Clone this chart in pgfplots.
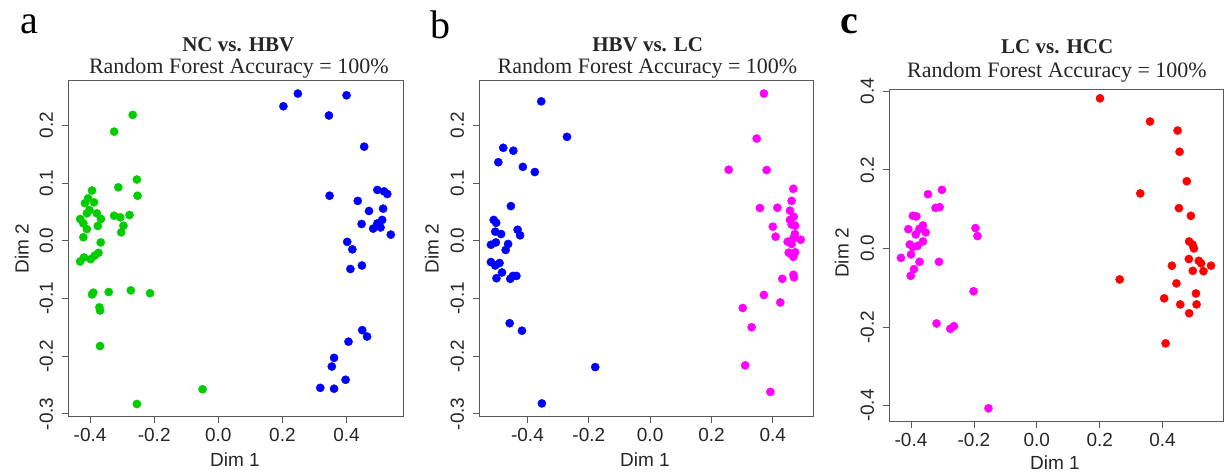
\documentclass[border=0pt]{standalone}
\usepackage{fontspec}
\setmainfont{Liberation Sans}
\newfontfamily\serif{Liberation Serif}
\usepackage{pgfplots}
\pgfplotsset{compat=1.18}
\definecolor{rgreen}{RGB}{0,205,0}
\definecolor{rblue}{RGB}{0,0,255}
\definecolor{rmag}{RGB}{255,0,255}
\definecolor{rred}{RGB}{255,0,0}
\pgfplotsset{
  myax/.style={
    scale only axis,
    axis line style={black!65, line width=0.8pt},
    tick style={black!65, line width=0.8pt},
    tick align=outside, major tick length=6.5pt,
    xtick pos=bottom, ytick pos=left,
    tick label style={font=\fontsize{19}{22}\selectfont, text=black!85},
    xticklabel style={inner ysep=5.1pt},
    yticklabel style={rotate=90, anchor=south, inner ysep=8.5pt},
    every axis plot/.append style={only marks, mark=*, mark size=4.1pt},
  }
}
\begin{document}
\begin{tikzpicture}
\useasboundingbox (0,0) rectangle (1227pt,475pt);
% ---------- panel a
\begin{axis}[myax, at={(68.3pt,58.3pt)}, anchor=south west, width=335pt, height=336pt,
  xmin=-0.468, xmax=0.577, ymin=-0.305, ymax=0.2773,
  xtick={-0.4,-0.2,0,0.2,0.4}, xticklabels={-0.4,-0.2,0.0,0.2,0.4},
  ytick={-0.3,-0.2,-0.1,0,0.1,0.2}, yticklabels={-0.3,-0.2,-0.1,0.0,0.1,0.2}]
\addplot[color=rgreen, mark options={fill=rgreen, draw=rgreen}] coordinates {
(-0.267,0.218)(-0.325,0.189)(-0.254,0.106)(-0.252,0.078)(-0.312,0.0925)(-0.394,0.087)(-0.406,0.0735)(-0.416,0.065)(-0.388,0.0665)(-0.402,0.053)(-0.410,0.0475)(-0.379,0.0475)(-0.366,0.0376)(-0.431,0.0376)(-0.421,0.030)(-0.410,0.020)(-0.376,0.0255)(-0.325,0.0433)(-0.306,0.0405)(-0.277,0.0445)(-0.296,0.026)(-0.303,0.0145)(-0.421,0.006)(-0.367,-0.003)(-0.431,-0.036)(-0.419,-0.029)(-0.398,-0.032)(-0.386,-0.026)(-0.374,-0.021)(-0.394,-0.093)(-0.390,-0.090)(-0.342,-0.089)(-0.273,-0.086)(-0.213,-0.091)(-0.371,-0.1155)(-0.369,-0.121)(-0.369,-0.1825)(-0.254,-0.283)(-0.049,-0.2575)
};
\addplot[color=rblue, mark options={fill=rblue, draw=rblue}] coordinates {
(0.203,0.233)(0.248,0.255)(0.400,0.252)(0.345,0.217)(0.455,0.163)(0.347,0.078)(0.496,0.088)(0.517,0.0855)(0.527,0.081)(0.435,0.069)(0.470,0.0515)(0.514,0.0555)(0.447,0.029)(0.511,0.036)(0.496,0.030)(0.483,0.021)(0.506,0.023)(0.538,0.0105)(0.402,-0.002)(0.418,-0.015)(0.448,-0.043)(0.412,-0.049)(0.449,-0.155)(0.464,-0.166)(0.406,-0.175)(0.361,-0.203)(0.354,-0.218)(0.397,-0.241)(0.318,-0.255)(0.361,-0.2565)
};
\end{axis}
% ---------- panel b
\begin{axis}[myax, at={(479.3pt,58.3pt)}, anchor=south west, width=334pt, height=336pt,
  xmin=-0.557, xmax=0.532, ymin=-0.305, ymax=0.2773,
  xtick={-0.4,-0.2,0,0.2,0.4}, xticklabels={-0.4,-0.2,0.0,0.2,0.4},
  ytick={-0.3,-0.2,-0.1,0,0.1,0.2}, yticklabels={-0.3,-0.2,-0.1,0.0,0.1,0.2}]
\addplot[color=rblue, mark options={fill=rblue, draw=rblue}] coordinates {
(-0.355,0.2415)(-0.271,0.180)(-0.479,0.161)(-0.446,0.156)(-0.495,0.136)(-0.415,0.128)(-0.376,0.119)(-0.454,0.060)(-0.510,0.036)(-0.502,0.031)(-0.505,0.0156)(-0.486,0.0116)(-0.432,0.019)(-0.424,0.0093)(-0.519,-0.007)(-0.503,-0.003)(-0.463,-0.0057)(-0.471,-0.016)(-0.519,-0.037)(-0.505,-0.043)(-0.491,-0.0387)(-0.483,-0.055)(-0.501,-0.065)(-0.456,-0.066)(-0.447,-0.061)(-0.436,-0.061)(-0.458,-0.143)(-0.418,-0.156)(-0.179,-0.219)(-0.353,-0.282)
};
\addplot[color=rmag, mark options={fill=rmag, draw=rmag}] coordinates {
(0.371,0.255)(0.3475,0.177)(0.256,0.123)(0.380,0.1225)(0.467,0.090)(0.4615,0.069)(0.358,0.0567)(0.415,0.0572)(0.456,0.052)(0.468,0.0416)(0.456,0.036)(0.473,0.026)(0.400,0.0243)(0.4615,0.028)(0.409,0.007)(0.472,0.0116)(0.491,0.0017)(0.4485,-0.0017)(0.4615,-0.0057)(0.467,0.004)(0.452,-0.0208)(0.473,-0.020)(0.459,-0.023)(0.467,-0.028)(0.467,-0.059)(0.469,-0.0635)(0.431,-0.066)(0.371,-0.094)(0.4245,-0.107)(0.302,-0.1166)(0.331,-0.150)(0.310,-0.216)(0.392,-0.262)
};
\end{axis}
% ---------- panel c
\begin{axis}[myax, at={(889.3pt,53.3pt)}, anchor=south west, width=334pt, height=332.4pt,
  xmin=-0.469, xmax=0.593, ymin=-0.441, ymax=0.405,
  xtick={-0.4,-0.2,0,0.2,0.4}, xticklabels={-0.4,-0.2,0.0,0.2,0.4},
  ytick={-0.4,-0.2,0,0.2,0.4}, yticklabels={-0.4,-0.2,0.0,0.2,0.4}]
\addplot[color=rmag, mark options={fill=rmag, draw=rmag}] coordinates {
(-0.3016,0.149)(-0.346,0.138)(-0.322,0.1033)(-0.309,0.105)(-0.394,0.083)(-0.383,0.0814)(-0.4086,0.049)(-0.362,0.0585)(-0.373,0.050)(-0.3535,0.0407)(-0.385,0.0356)(-0.362,0.0178)(-0.404,0.010)(-0.394,0.004)(-0.379,0.0066)(-0.400,-0.0153)(-0.432,-0.024)(-0.373,-0.034)(-0.3905,-0.0527)(-0.401,-0.0697)(-0.311,-0.034)(-0.195,0.0517)(-0.1886,0.0313)(-0.201,-0.109)(-0.3187,-0.191)(-0.275,-0.2045)(-0.2635,-0.1977)(-0.1537,-0.407)
};
\addplot[color=rred, mark options={fill=rred, draw=rred}] coordinates {
(0.201,0.382)(0.360,0.323)(0.4476,0.300)(0.454,0.246)(0.477,0.171)(0.329,0.140)(0.452,0.1025)(0.490,0.083)(0.4845,0.0178)(0.495,0.010)(0.4995,0.000)(0.4835,-0.027)(0.515,-0.0315)(0.5225,-0.038)(0.554,-0.044)(0.4295,-0.044)(0.496,-0.057)(0.530,-0.058)(0.2635,-0.079)(0.444,-0.089)(0.506,-0.1145)(0.405,-0.127)(0.456,-0.1425)(0.508,-0.1425)(0.4845,-0.165)(0.4095,-0.2417)
};
\end{axis}
% ---------- texts
\tikzset{ttl/.style={anchor=base, inner sep=0pt, font=\serif\bfseries\fontsize{21}{24}\selectfont, text=black!85},
         sub/.style={anchor=base, inner sep=0pt, font=\serif\fontsize{22}{24}\selectfont, text=black!85},
         let/.style={anchor=base west, inner sep=0pt, font=\serif\fontsize{40}{40}\selectfont},
         dl/.style={anchor=base, inner sep=0pt, font=\fontsize{19}{22}\selectfont, text=black!85},
         dr/.style={anchor=center, rotate=90, inner sep=0pt, font=\fontsize{19}{22}\selectfont, text=black!85}}
\node[let] at (20pt,441.7pt) {a};
\node[let] at (430pt,436.7pt) {b};
\node[let, font=\serif\bfseries\fontsize{40}{40}\selectfont] at (840pt,441.7pt) {c};
\node[ttl] at (238.3pt,423.3pt) {NC vs. HBV};
\node[sub] at (238.8pt,401pt) {Random Forest Accuracy = 100\%};
\node[ttl] at (647.7pt,423.3pt) {HBV vs. LC};
\node[sub] at (647.5pt,401pt) {Random Forest Accuracy = 100\%};
\node[ttl] at (1057.2pt,421pt) {LC vs. HCC};
\node[sub] at (1057pt,397.3pt) {Random Forest Accuracy = 100\%};
\node[dl] at (235pt,8.3pt) {Dim 1};
\node[dl] at (645pt,8.3pt) {Dim 1};
\node[dl] at (1055pt,5.5pt) {Dim 1};
\node[dr] at (21.7pt,226.7pt) {Dim 2};
\node[dr] at (431.7pt,226.7pt) {Dim 2};
\node[dr] at (841.7pt,222pt) {Dim 2};
\end{tikzpicture}
\end{document}
